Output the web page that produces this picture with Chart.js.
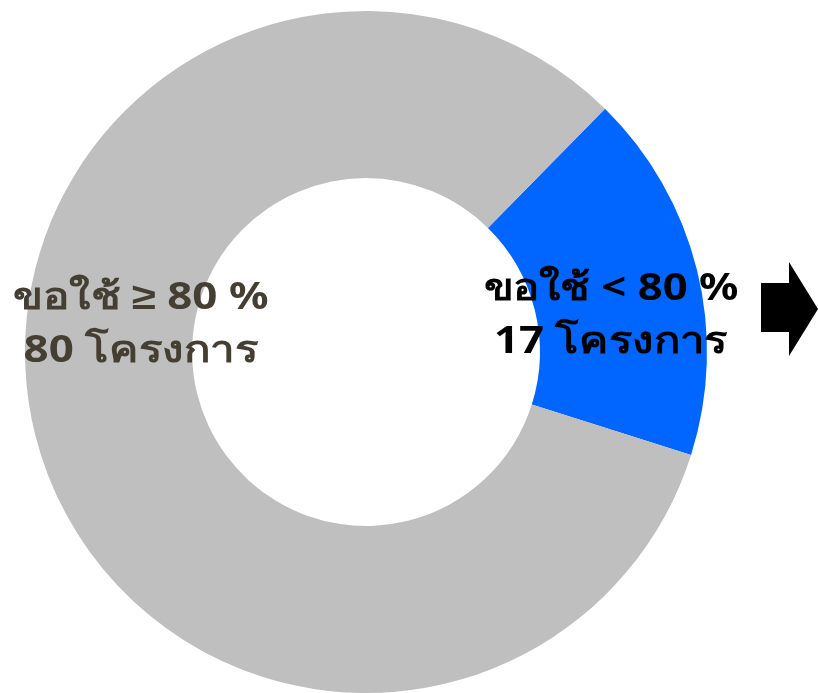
<!DOCTYPE html>
<html>
<head>
<meta charset="utf-8">
<script src="https://cdn.jsdelivr.net/npm/chart.js@4.4.0/dist/chart.umd.min.js"></script>
<style>
  html, body { margin: 0; padding: 0; background: #fff; }
  #wrap { width: 818px; height: 693px; position: relative; }
</style>
</head>
<body>
<div id="wrap"><canvas id="js-chartjs-donut"></canvas></div>
<script>
// Chart data
const categories = ['ขอใช้ < 80 %', 'ขอใช้ ≥ 80 %'];
const projectCounts = [17, 80];
const unitLabel = 'โครงการ';
const sliceColors = ['#0066ff', '#bfbfbf'];
const labelColors = ['#000000', '#453e33'];

// Label centres for each slice (x, baseline y of first line)
const labelPos = [
  {x: 611, y: 300},
  {x: 141, y: 309}
];
const labelWidth = 255;

// Draws the two-line labels and the arrow on the right
const donutLabels = {
  id: 'donutLabels',
  afterDraw(chart) {
    const ctx = chart.ctx;
    ctx.save();
    ctx.font = 'bold 37px "Noto Sans", sans-serif';
    ctx.textAlign = 'center';
    ctx.textBaseline = 'alphabetic';
    categories.forEach(function (cat, i) {
      ctx.fillStyle = labelColors[i];
      // stretch a bit to the wider face used in the original
      let lines = [cat, projectCounts[i] + ' ' + unitLabel];
      let sx = labelWidth / ctx.measureText(lines[0]).width;
      lines.forEach(function (txt, k) {
        ctx.save();
        ctx.translate(labelPos[i].x, labelPos[i].y + k * 53);
        ctx.scale(sx, 1);
        ctx.fillText(txt, 0, 0);
        ctx.restore();
      });
    });

    // block arrow
    ctx.fillStyle = '#000';
    ctx.beginPath();
    ctx.moveTo(761, 283);
    ctx.lineTo(789, 283);
    ctx.lineTo(789, 262);
    ctx.lineTo(818, 309);
    ctx.lineTo(789, 356);
    ctx.lineTo(789, 332);
    ctx.lineTo(761, 332);
    ctx.closePath();
    ctx.fill();
    ctx.restore();
  }
};

let donutCon = document.getElementById('js-chartjs-donut');

let donutData = {
  labels: categories,
  datasets: [
    {
      data: projectCounts,
      backgroundColor: sliceColors,
      hoverBackgroundColor: sliceColors,
      borderWidth: 0
    }
  ]
};

let donutOptions = {
  responsive: true,
  maintainAspectRatio: false,
  animation: false,
  rotation: 44.5,
  cutout: '51%',
  layout: {
    padding: {left: 24, right: 110, top: 11, bottom: 0}
  },
  plugins: {
    legend: {display: false},
    tooltip: {enabled: false}
  }
};

new Chart(donutCon, {type: 'doughnut', data: donutData, options: donutOptions, plugins: [donutLabels]});
</script>
</body>
</html>
